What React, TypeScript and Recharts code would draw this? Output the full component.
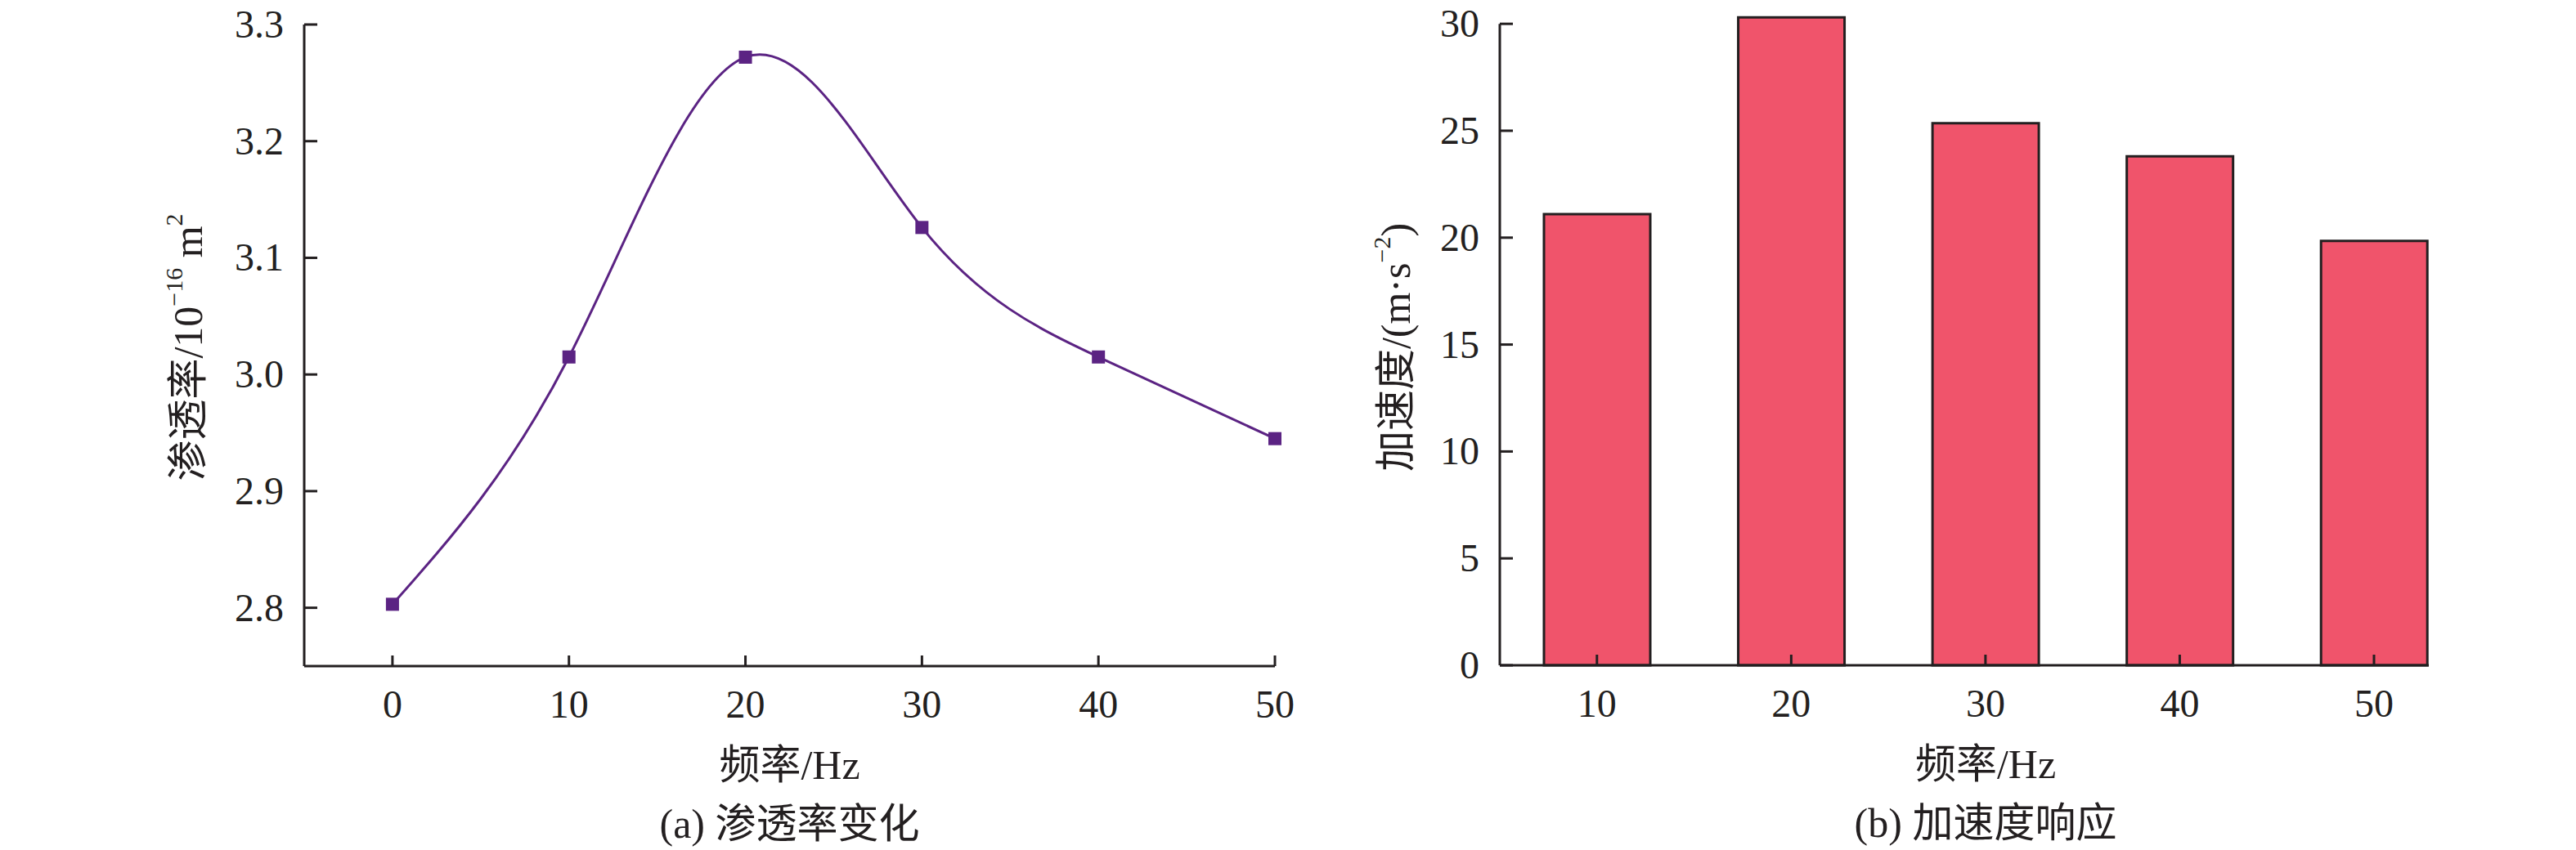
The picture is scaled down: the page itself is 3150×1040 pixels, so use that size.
import React from 'react';
import { LineChart, Line, BarChart, Bar, XAxis, YAxis, Label, ReferenceLine } from 'recharts';

// (a) permeability vs frequency
const frequencies = [0, 10, 20, 30, 40, 50];
const permeability = [2.803, 3.015, 3.272, 3.126, 3.015, 2.945];
const permTicks = [2.8, 2.9, 3.0, 3.1, 3.2, 3.3];
const freqTicks = [0, 10, 20, 30, 40, 50];

// (b) acceleration response
const barFrequencies = [10, 20, 30, 40, 50];
const acceleration = [21.1, 30.3, 25.35, 23.8, 19.85];
const accTicks = [0, 5, 10, 15, 20, 25, 30];

const lineData = frequencies.map((f, i) => ({ freq: f, k: permeability[i] }));
const barData = barFrequencies.map((f, i) => ({ freq: f, acc: acceleration[i] }));

const INK = '#231F20';
const PURPLE = '#5B2383';
const RED = '#F0546B';
const FONT = "'Liberation Serif', 'Times New Roman', 'Noto Sans CJK SC', serif";

const makeXTick = () => (props: any) => {
    const { x, y, payload } = props;
    return (
        <g>
            <line x1={x} y1={y} x2={x} y2={y - 13} stroke={INK} strokeWidth={3} />
            <text x={x} y={y + 63} textAnchor="middle" fontSize={48} fontFamily={FONT} fill={INK}>
                {payload.value}
            </text>
        </g>
    );
};

const makeYTick = (digits: number) => (props: any) => {
    const { x, y, payload } = props;
    return (
        <g>
            <line x1={x} y1={y} x2={x + 16} y2={y} stroke={INK} strokeWidth={3} />
            <text x={x - 25} y={y + 16} textAnchor="end" fontSize={48} fontFamily={FONT} fill={INK}>
                {Number(payload.value).toFixed(digits)}
            </text>
        </g>
    );
};

const yTitle = (fromAxis: number, children: React.ReactNode) => (props: any) => {
    const { viewBox } = props;
    const cx = viewBox.x + viewBox.width - fromAxis;
    const cy = 425;
    return (
        <text
            transform={`translate(${cx},${cy}) rotate(-90)`}
            textAnchor="middle"
            dominantBaseline="central"
            fontSize={50}
            fontFamily={FONT}
            fill={INK}
        >
            {children}
        </text>
    );
};

const xTitle = (dx: number, title: string, caption: string) => (props: any) => {
    const { viewBox } = props;
    const cx = viewBox.x + viewBox.width / 2 + dx;
    return (
        <g>
            <text x={cx} y={viewBox.y + 138} textAnchor="middle" fontSize={50} fontFamily={FONT} fill={INK}>
                {title}
            </text>
            <text x={cx} y={viewBox.y + 210} textAnchor="middle" fontSize={50} fontFamily={FONT} fill={INK}>
                {caption}
            </text>
        </g>
    );
};

const SquareDot = (props: any) => {
    const { cx, cy, index } = props;
    return <rect key={`dot-${index}`} x={cx - 8} y={cy - 8} width={16} height={16} fill={PURPLE} />;
};

const axisLine = { stroke: INK, strokeWidth: 3 };

const PermeabilityChart = () => (
    <LineChart width={1640} height={1040} data={lineData} margin={{ top: 30, right: 81, bottom: 165, left: 172 }}>
        <XAxis
            dataKey="freq"
            type="number"
            domain={[-5, 50]}
            ticks={freqTicks}
            height={60}
            tickSize={0}
            tickMargin={0}
            tickLine={false}
            axisLine={axisLine}
            tick={makeXTick()}
        >
            <Label content={xTitle(0, '频率/Hz', '(a) 渗透率变化')} />
        </XAxis>
        <YAxis
            type="number"
            domain={[2.75, 3.3]}
            ticks={permTicks}
            allowDataOverflow
            width={200}
            tickSize={0}
            tickMargin={0}
            tickLine={false}
            axisLine={axisLine}
            tick={makeYTick(1)}
        >
            <Label
                content={yTitle(
                    142,
                    <>
                        渗透率/10
                        <tspan fontSize={30} dy={-18}>−16</tspan>
                        <tspan dy={18}> m</tspan>
                        <tspan fontSize={30} dy={-18}>2</tspan>
                    </>
                )}
            />
        </YAxis>
        <Line
            type="natural"
            dataKey="k"
            stroke={PURPLE}
            strokeWidth={3}
            dot={SquareDot}
            activeDot={false}
            isAnimationActive={false}
        />
    </LineChart>
);

const AccelerationChart = () => (
    <BarChart width={1575} height={1040} data={barData} margin={{ top: 3, right: 180, bottom: 166, left: 59 }}>
        <XAxis
            dataKey="freq"
            type="number"
            domain={[5, 50]}
            ticks={barFrequencies}
            padding={{ left: 0, right: 67 }}
            height={60}
            tickSize={0}
            tickMargin={0}
            tickLine={false}
            axisLine={axisLine}
            tick={makeXTick()}
        >
            <Label content={xTitle(26, '频率/Hz', '(b) 加速度响应')} />
        </XAxis>
        <YAxis
            type="number"
            domain={[0, 31]}
            ticks={accTicks}
            width={200}
            tickSize={0}
            tickMargin={0}
            tickLine={false}
            axisLine={false}
            tick={makeYTick(0)}
        >
            <Label
                content={yTitle(
                    127,
                    <>
                        加速度/(m·s
                        <tspan fontSize={30} dy={-18}>−2</tspan>
                        <tspan dy={18}>)</tspan>
                    </>
                )}
            />
        </YAxis>
        <Bar dataKey="acc" fill={RED} stroke={INK} strokeWidth={3} barSize={130} isAnimationActive={false} />
        <ReferenceLine
            segment={[
                { x: 5, y: 0 },
                { x: 5, y: 30 },
            ]}
            stroke={INK}
            strokeWidth={3}
        />
    </BarChart>
);

export default function App() {
    return (
        <div style={{ position: 'absolute', left: 0, top: 0, width: 3150, height: 1040, background: '#fff' }}>
            <div style={{ position: 'absolute', left: 0, top: 0 }}>
                <PermeabilityChart />
            </div>
            <div style={{ position: 'absolute', left: 1575, top: 0 }}>
                <AccelerationChart />
            </div>
        </div>
    );
}
